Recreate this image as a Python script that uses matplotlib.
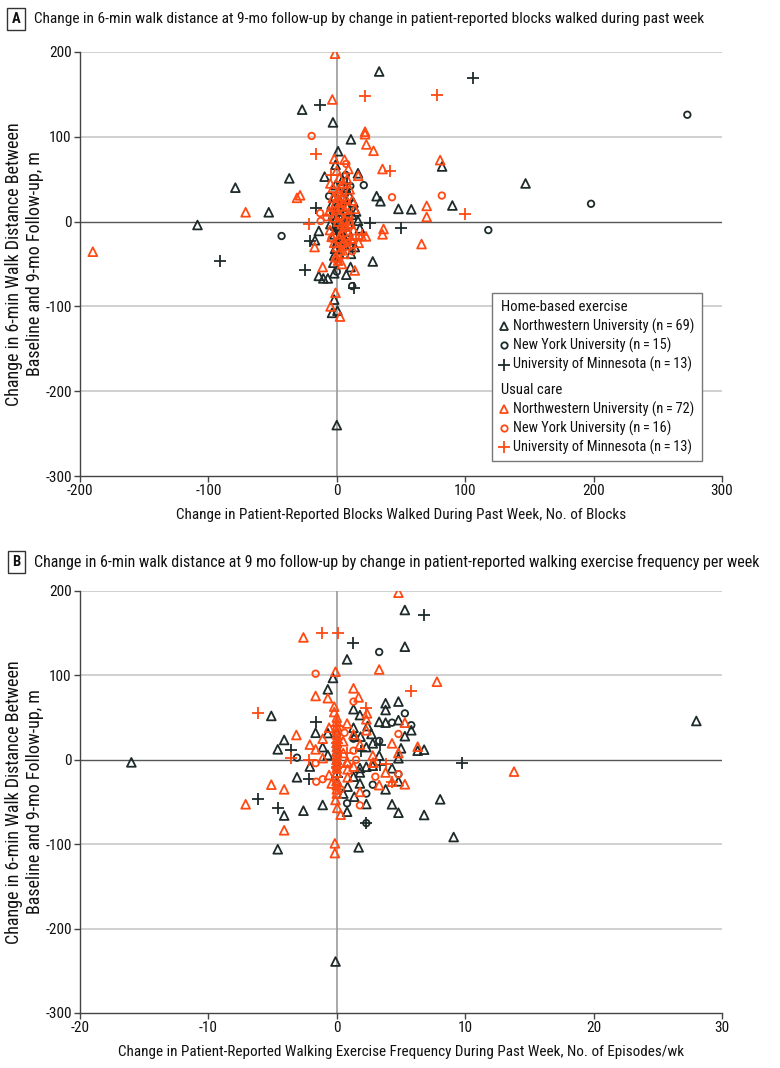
import matplotlib
matplotlib.use("Agg")
import matplotlib.pyplot as plt
from matplotlib import font_manager
from matplotlib.patches import Rectangle

avail = {f.name for f in font_manager.fontManager.ttflist}
fam = None
for cand in ["Liberation Sans Narrow", "Roboto Condensed", "DejaVu Sans Condensed", "Open Sans Condensed", "Liberation Sans"]:
    if cand in avail:
        fam = cand
        break
plt.rcParams['font.family'] = [fam, 'DejaVu Sans']
plt.rcParams['axes.unicode_minus'] = False

DARK = "#1f2b2b"
ORANGE = "#ff4a14"

# ---------------- Panel A data (x: change in blocks, y: change in 6MW, m) -------------
a_home_nw_x = [33, -27, -3, 11, 1, -1, -37, -9.5, 16.5, -1, 82, 31, 34, 48, 58, -53, 13, -108.5, -79, 147,
               90, 28, 0, -14, -17, -14, -10.5, -7, 7.4, 10.7, -2.7, -2, -2, 0.5, -3.7, 16.5, -1.4,
               2, 5, 8, 3, 0, 6, -2, 1, 4, 9, 12, -4, 2, 7, 10, -1, 3, 5, -3, 14, 1, 6, 8, 0, 11, 4, -5, 2, 9, -2, 15, 18]
a_home_nw_y = [177, 132, 117, 97, 83, 67, 51, 53, 57, 43, 65, 30, 24, 15, 14.5, 11, 22.5, -4, 40, 45,
               19, -47, -240, -11, -22, -64, -67, -67, -62.6, -53.6, -48.5, -61, -92, -105, -107.6, 1, -32,
               35, 28, 18, 12, 5, -5, -15, -22, -28, -12, 8, 20, -38, 40, 30, -5, -10, 2, 8, -30, 15, -20, 5, -25, -38, 48, -3, 25, -2, -40, 12, -8]
a_home_nyu_x = [273, 198, 118, -43, 21, 7, -6, 10.5, 12, 11, 6, 0, 1, 7, 3]
a_home_nyu_y = [126, 21, -10, -17, 43, 55, 30, 42, -76, -30, 9, -59, -4, 34, -20]
a_home_umn_x = [106, -13, -91, -25, -21, -16.5, 25.5, 50, 13.6, 8, -1.4, -0.7, 4]
a_home_umn_y = [169, 137, -47, -57, -23, 16, -2, -7.5, -78, 44, 10.6, -8.3, -20]

a_uc_nw_x = [-1.4, -3.5, 22, 22, 23, 28.6, -2, 6, 35.6, 80.5, 16.7, -31, -28.6, 70, 70, -71, -190, 36.4, 35.6, 66,
             -17.3, -11, 14, -1, -4.8, 2.5, 22.7, 19.3, 10.7, -5.3,
             0, 2, 5, -3, 1, 4, 7, -1, 3, 6, 9, -2, 1, 4, 7, -4, 2, 5, 8, 0, 3, 6, -1, 1, 10, 12, 14, -6, -3, 2,
             5, 8, 0, -2, 3, 11, 17, 6, -5, 9, 13, 4]
a_uc_nw_y = [198, 144, 106, 103, 91, 83.5, 74, 73, 62, 72.5, 54, 28, 31, 18.5, 5.5, 11, -35.5, -8.7, -15, -26.5,
             -30, -53.6, -57.6, -84, -100, -112, -17.4, -17, -2.4, -10,
             60, 52, 45, 40, 35, 30, 27, 22, 18, 14, 10, 5, 0, -3, -6, -18, -20, -24, -28, -30, -34, -38, -42, -46, 38, 25, 15, 12, 28, 8,
             -12, 50, 15, -25, -15, -20, -25, 3, 45, 62, -10, -50]
a_uc_nyu_x = [-19.6, 7.4, 43, 81.8, -13, -12.6, 5, 8, 3, 12, -4, 0, 1, 10, 6, -8]
a_uc_nyu_y = [101, 68, 28.7, 30.7, 10, 0.7, 20, -25, 40, -35, -20, -45, 30, 0, -8, 5]
a_uc_umn_x = [21.6, 78, -16.5, 41.4, -4.5, 99.7, -21.6, 20, 11, -3.5, 15, 3, 1]
a_uc_umn_y = [148, 149, 80, 60, 55, 9.4, -2.4, -16, -22, 13, -20, -30, 25]

# ---------------- Panel B data (x: change in walking episodes/wk) ----------------
b_home_nw_x = [5.3, 5.3, 0.8, -0.3, -0.7, -5.1, 3.8, 3.8, 4.8, 1.8, 3.8, 4.8, 1.3, -1.65, -0.7, -4.1, -4.6, -0.7, 1.8, 2.3,
               1.4, 1.85, 2.7, 2.4, 5.0, 6.3, 4.8, 2.8, -3.1, -4.1, -2.6, -1.1, 0.8, 1.36, 2.3, 4.3, 4.8, 6.8, 8.05, 9.1,
               -4.6, 1.7, -0.1, 0.84, 4.8, 2.8, -16, 28,
               0, 0, 0, 0, 0, 0, 1.3, 1.8, 2.3, 3.3, 4.3, 5.3, 5.8, 6.8, 3.3, 1.3, -1.1, -2.1, 0.5, 1.8, 3.8]
b_home_nw_y = [177.5, 134, 119, 97, 83.5, 52, 67, 59, 69, 53, 44, 47, 38, 32, 31.7, 23.5, 12.4, 5.7, -9.7, -8.2,
               28, 27.4, 30.6, 40, 13.6, 10.8, 1.8, 19.5, -20.7, -66, -60.3, -53.5, -61.5, -43.7, -52.4, -52.7, -62.7, -65.4, -46.8, -91.5,
               -106, -103.7, -239, -31.8, -25.5, -7, -3, 46,
               -5, -15, 20, 10, -25, 0, -20, -28, 15, 5, -10, 28, 35, 12, 45, 60, 15, -8, -40, -15, -35]
b_home_nyu_x = [3.3, 5.3, 4.3, 5.8, 3.3, -3.1, 0.8, 2.3, 2.8, 4.8, 0, 0, 1.3, 2.3, 0]
b_home_nyu_y = [127.7, 55, 44, 41, 22.3, 2.5, -51.5, -75, -29.5, -17, -10, 12, 25, -40, 30]
b_home_umn_x = [6.8, 1.3, -1.65, -3.6, 3.4, 3.4, 1.85, -2.2, -6.1, -4.6, 2.3, 9.75, 0]
b_home_umn_y = [171.5, 138.7, 44.8, 11.6, -6.5, 17.5, 10.8, -23, -46.8, -56.7, -75, -4.2, -20]

b_uc_nw_x = [4.8, -2.6, 3.3, -0.1, 7.8, 1.3, -1.65, -0.7, 1.7, -0.2, -0.2, 2.35, 5.3, 0.8, -3.15, -1.65, 0.8, 2.85, 4.3, 6.3,
             -5.1, -4.1, -7.1, -4.1, -0.1, 0.04, -0.15, -0.15, 0.84, 0.84, 0.84, 3.3, 4.3, 5.3, 2.8, 13.8,
             0, 0, 0, 0, 0, 0, 0, 0, 0, 0, 0, 0, 0, 0, 0, 0, 0, 0, 0.5, 0.5, 1.3, 1.3, 1.8, 2.3, 2.8, -0.6, -0.6, -1.1,
             -1.1, -2.1, 3.8, 4.8, 1.8, 0.3, -0.4, 2.3]
b_uc_nw_y = [198, 145, 107, 104.4, 92.5, 84.7, 75.6, 73, 74, 63, 56.6, 55, 44, 43, 29.4, 12.4, -2.2, -3.4, 19.5, 15.5,
             -29.5, -35, -52.7, -83.5, -47.6, -57, -99, -110.5, -20.7, -11.3, -3.4, -30, -26, -29, -3.4, -14,
             50, 45, 40, 35, 30, 25, 20, 15, 10, 5, 0, -5, -10, -15, -25, -30, -35, -40, 22, 8, 30, -8, 18, 35, 5, 38, -18, 25,
             2, 18, -15, 8, -38, -65, -28, 48]
b_uc_nyu_x = [-1.65, 1.3, 4.8, 1.3, -1.65, -1.6, -1.1, 1.8, 4.8, 0, 0, 0, 0.6, 1.5, 0.3, 3]
b_uc_nyu_y = [102, 69, 30.6, 10.8, -4, -26, -23, -54, -17, -1, 18, -12, 32, 0, -35, -20]
b_uc_umn_x = [-1.15, 0.1, 5.8, 2.3, -6.1, -3.6, -2.2, 4.3, 0, 0, 0.8, 3.8, 0]
b_uc_umn_y = [150.6, 150, 82, 61.7, 55.8, 1.8, 0, -26, 20, -8, 8, -5, 40]

legend_groups = ["Home-based exercise", "Usual care"]
legend_labels = [["Northwestern University (n\u2009=\u200969)", "New York University (n\u2009=\u200915)", "University of Minnesota (n\u2009=\u200913)"],
                 ["Northwestern University (n\u2009=\u200972)", "New York University (n\u2009=\u200916)", "University of Minnesota (n\u2009=\u200913)"]]

y_ticks = [-300, -200, -100, 0, 100, 200]
a_xticks = [-200, -100, 0, 100, 200, 300]
b_xticks = [-20, -10, 0, 10, 20, 30]

title_a = "Change in 6-min walk distance at 9-mo follow-up by change in patient-reported blocks walked during past week"
title_b = "Change in 6-min walk distance at 9 mo follow-up by change in patient-reported walking exercise frequency per week"
xlabel_a = "Change in Patient-Reported Blocks Walked During Past Week, No. of Blocks"
xlabel_b = "Change in Patient-Reported Walking Exercise Frequency During Past Week, No. of Episodes/wk"
ylabel = "Change in 6-min Walk Distance Between\nBaseline and 9-mo Follow-up, m"

W, H = 780, 1068
fig = plt.figure(figsize=(W / 100, H / 100), dpi=100)

def px_axes(l, r, t, b):
    return fig.add_axes([l / W, 1 - b / H, (r - l) / W, (b - t) / H])

MS = dict(tri=dict(marker="^", s=40, lw=1.3), circ=dict(marker="o", s=22, lw=1.3), plus=dict(marker="+", s=75, lw=1.3))

def style(ax, xlim, xticks):
    ax.set_xlim(*xlim)
    ax.set_ylim(-300, 200)
    ax.set_xticks(xticks)
    ax.set_yticks(y_ticks)
    ax.set_xticklabels([str(t) for t in xticks])
    ax.set_yticklabels([str(t) for t in y_ticks])
    for v in [-200, -100, 100, 200]:
        ax.axhline(v, color="#c8c8c8", lw=1.2, zorder=0)
    ax.axhline(0, color="#555555", lw=1.0, zorder=0.5)
    ax.axvline(0, color="#9a9a9a", lw=1.2, zorder=0.4)
    for s in ["top", "right"]:
        ax.spines[s].set_visible(False)
    for s in ["left", "bottom"]:
        ax.spines[s].set_color("#444444")
        ax.spines[s].set_linewidth(1.0)
    ax.tick_params(direction="out", length=4, width=1, color="#444444", labelsize=11, pad=2, labelcolor="#111111")
    ax.set_ylabel(ylabel, fontsize=13, color="#111111", linespacing=1.2)
    ax.yaxis.set_label_coords(-0.056, 0.5)

def plot_sets(ax, sets):
    for (x, y, kind, col) in sets:
        m = MS[kind]
        if kind == "plus":
            ax.scatter(x, y, marker=m["marker"], s=m["s"], linewidths=m["lw"], color=col, zorder=3)
        else:
            ax.scatter(x, y, marker=m["marker"], s=m["s"], linewidths=m["lw"], facecolors="none", edgecolors=col, zorder=3)

# ---- Panel A
axA = px_axes(80, 722, 52, 476)
style(axA, (-200, 300), a_xticks)
axA.set_xlabel(xlabel_a, fontsize=10.9, labelpad=7, color="#111111")
plot_sets(axA, [
    (a_home_nw_x, a_home_nw_y, "tri", DARK), (a_home_nyu_x, a_home_nyu_y, "circ", DARK), (a_home_umn_x, a_home_umn_y, "plus", DARK),
    (a_uc_nw_x, a_uc_nw_y, "tri", ORANGE), (a_uc_nyu_x, a_uc_nyu_y, "circ", ORANGE), (a_uc_umn_x, a_uc_umn_y, "plus", ORANGE),
])

# ---- Panel B
axB = px_axes(80, 722, 591, 1013)
style(axB, (-20, 30), b_xticks)
axB.set_xlabel(xlabel_b, fontsize=10.9, labelpad=7, color="#111111")
plot_sets(axB, [
    (b_home_nw_x, b_home_nw_y, "tri", DARK), (b_home_nyu_x, b_home_nyu_y, "circ", DARK), (b_home_umn_x, b_home_umn_y, "plus", DARK),
    (b_uc_nw_x, b_uc_nw_y, "tri", ORANGE), (b_uc_nyu_x, b_uc_nyu_y, "circ", ORANGE), (b_uc_umn_x, b_uc_umn_y, "plus", ORANGE),
])

# ---- Overlay axes in figure pixel coords for legend and titles
ov = fig.add_axes([0, 0, 1, 1], facecolor="none", zorder=10)
ov.set_xlim(0, W)
ov.set_ylim(H, 0)
ov.set_autoscale_on(False)
ov.axis("off")

ov.add_patch(Rectangle((492, 293), 702 - 492, 461 - 293, facecolor="white", edgecolor="#777777", lw=1.0, zorder=1))
rows_y = [[326, 345, 364.5], [409, 428, 447]]
hdr_y = [307, 390.5]
kinds = ["tri", "circ", "plus"]
mk = {"tri": ("^", 6.3), "circ": ("o", 4.6), "plus": ("+", 8.5)}
cols = [DARK, ORANGE]
for g in range(2):
    ov.text(501, hdr_y[g], legend_groups[g], fontsize=10.6, va="center", ha="left", color="#111111", zorder=3)
    for i in range(3):
        mkr, msz = mk[kinds[i]]
        ov.plot([503.5], [rows_y[g][i]], linestyle="none", marker=mkr, markersize=msz, markeredgewidth=1.3,
                markerfacecolor="none", markeredgecolor=cols[g], color=cols[g], zorder=3)
        ov.text(513, rows_y[g][i], legend_labels[g][i], fontsize=10.4, va="center", ha="left", color="#111111", zorder=3)

# ---- Panel titles with boxed letters
for letter, ty, txt, fs in [("A", 19, title_a, 11.1), ("B", 562, title_b, 11.5)]:
    ov.text(16, ty, letter, fontsize=10.5, fontweight="bold", ha="center", va="center", color="#111111", zorder=3,
            bbox=dict(boxstyle="square,pad=0.3", facecolor="white", edgecolor="#333333", lw=1.0))
    ov.text(34, ty, txt, fontsize=fs, ha="left", va="center", color="#111111", zorder=3)

fig.savefig("out.png", dpi=100)
